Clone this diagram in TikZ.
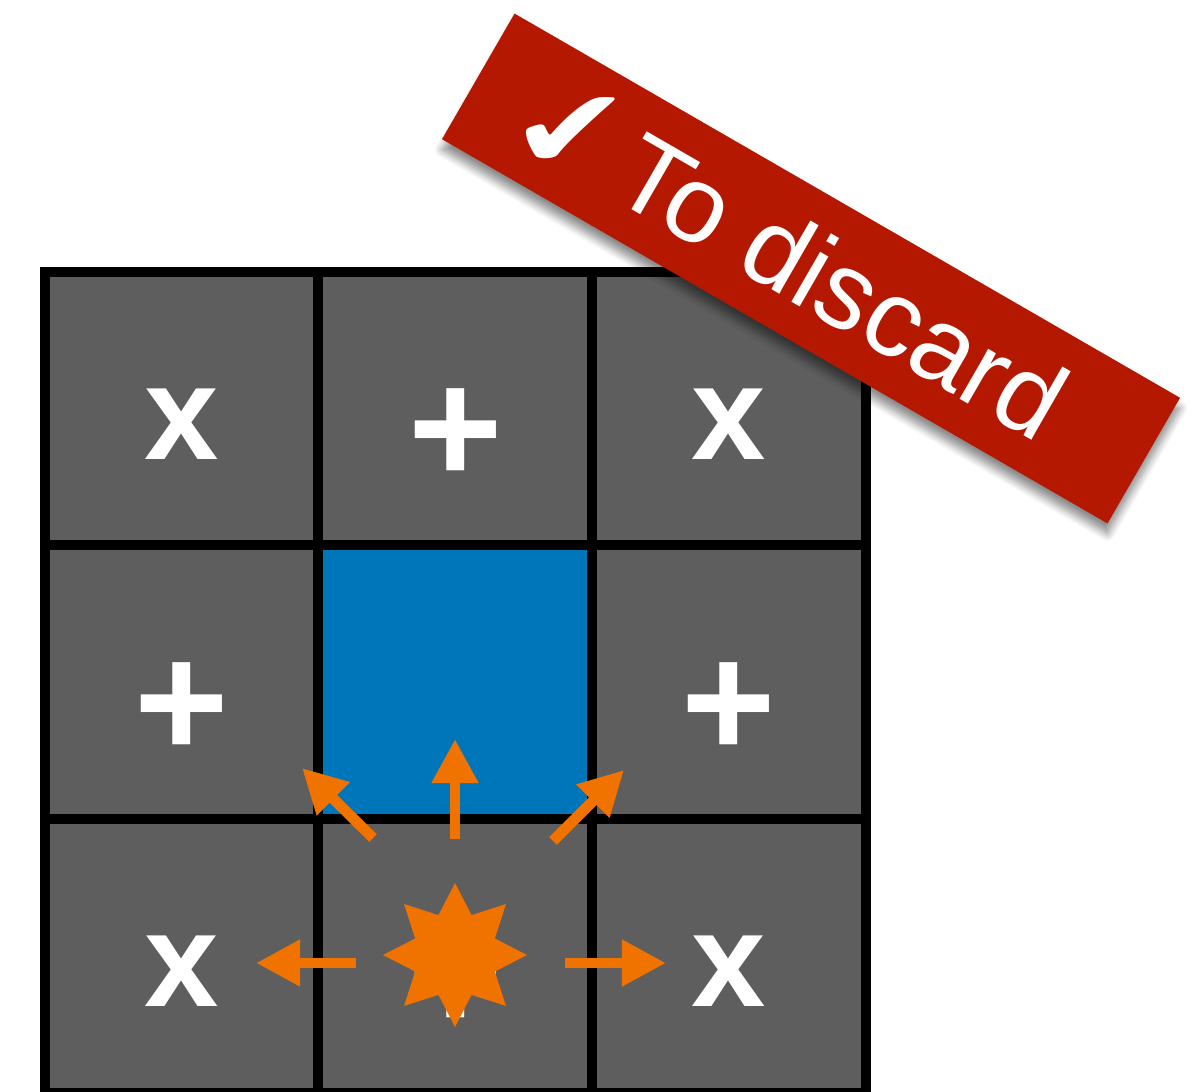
\documentclass[tikz,border=0pt]{standalone}
\usepackage{fontspec}
\setmainfont{Liberation Sans}
\newfontfamily\checkfont{DejaVu Sans}
\usetikzlibrary{arrows.meta,shapes.geometric,shadows.blur}
\definecolor{cellgray}{HTML}{5E5E5E}
\definecolor{midblue}{HTML}{0076BA}
\definecolor{burstorange}{HTML}{F07300}
\definecolor{bannerred}{HTML}{B51800}

\begin{document}
\begin{tikzpicture}[x=0.01cm,y=0.01cm,
  cell/.style={draw=black,line width=0.1cm,fill=#1,minimum size=2.735cm,inner sep=0pt},
  letter/.style={text=white,font=\bfseries\fontsize{38}{38}\selectfont,inner sep=0pt},
  cross/.style={text=white,font=\bfseries\fontsize{46}{46}\selectfont,inner sep=0pt},
  push/.style={draw=burstorange,line width=0.107cm,-{Triangle[length=0.44cm,width=0.44cm]}}]
  \useasboundingbox (0,0) rectangle (1198,1091);
  \foreach \r/\c/\col in {1/1/cellgray,1/2/cellgray,1/3/cellgray,2/1/cellgray,2/2/midblue,2/3/cellgray,3/1/cellgray,3/2/cellgray,3/3/cellgray}
    \node[cell=\col] (c\r\c) at ({45+273.5*(\c-0.5)},{819-273.5*(\r-0.5)}) {};
  \foreach \r/\c in {1/1,1/3,3/1,3/3}
    \node[letter] (s\r\c) at ([yshift=-0.15cm]c\r\c.center) {x};
  \foreach \r/\c in {1/2,2/1,2/3,3/2}
    \node[cross] (s\r\c) at ([yshift=-0.275cm]c\r\c.center) {+};
  \foreach \n/\ax/\ay/\bx/\by in {up/455/252/455/352,lt/356/128/256/128,rt/565/128/666/128,ul/373/253/302/323,ur/553/250/624/321}
  {
    \coordinate (\n-a) at (\ax,\ay);
    \coordinate (\n-b) at (\bx,\by);
    \draw[push] (\n-a) -- (\n-b);
  }
  \node[star,star points=8,star point ratio=1.67,minimum size=1.44cm,inner sep=0pt,fill=burstorange] (burst) at (455,136) {};
  \node[rotate=-30,minimum width=7.68cm,minimum height=1.45cm,fill=bannerred,
    blur shadow={shadow xshift=0pt,shadow yshift=-3pt,shadow blur steps=8,shadow opacity=45}] (band) at (811,822.5) {};
  \node[xscale=1.3,text=white,font=\checkfont\fontsize{32}{32}\selectfont,inner sep=0pt] (tick) at (571,958) {✔};
  \node[rotate=-30,anchor=base west,text=white,font=\fontsize{31}{31}\selectfont,inner sep=0pt] (tag) at (607,896) {To discard};
\end{tikzpicture}
\end{document}
